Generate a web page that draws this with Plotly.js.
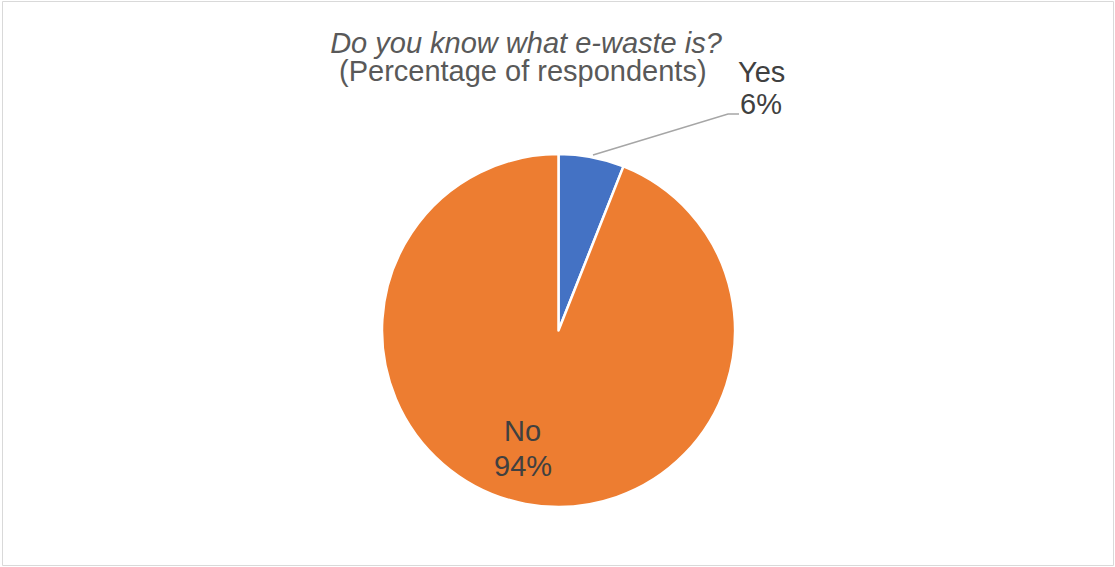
<!DOCTYPE html>
<html>
<head>
<meta charset="utf-8">
<script src="https://cdn.plot.ly/plotly-3.0.1.min.js"></script>
<style>html,body{margin:0;padding:0;background:#fff;}#chart{width:1115px;height:567px;}</style>
</head>
<body>
<div id="chart"></div>
<script>
const labels = ['Yes', 'No'];
const values = [6, 94];
const colors = ['#4472C4', '#ED7D31'];
const titleLine1 = 'Do you know what e-waste is?';
const titleLine2 = '(Percentage of respondents)';

const W = 1115, H = 567;
const cx = 558.5, cy = 330.5, R = 176.5;

const trace = {
  type: 'pie',
  labels: labels,
  values: values,
  sort: false,
  direction: 'clockwise',
  rotation: 0,
  textinfo: 'none',
  hoverinfo: 'label+percent',
  marker: { colors: colors, line: { color: '#FFFFFF', width: 2.5 } },
  domain: { x: [(cx - R) / W, (cx + R) / W], y: [(H - cy - R) / H, (H - cy + R) / H] },
  showlegend: false
};

const fontFam = 'Liberation Sans, Arial, sans-serif';
const FS = 29;
// [label line y, value line y, x center] in pixels
const labelPos = [ { x: 761, y1: 72, y2: 104.5 }, { x: 522.5, y1: 431, y2: 465.5 } ];
const annotations = [];
labels.forEach((l, i) => {
  annotations.push({
    xref: 'paper', yref: 'paper', x: labelPos[i].x / W, y: 1 - labelPos[i].y1 / H,
    xanchor: 'center', yanchor: 'middle', text: l, showarrow: false,
    font: { family: fontFam, size: FS, color: '#404040' }
  });
  annotations.push({
    xref: 'paper', yref: 'paper', x: labelPos[i].x / W, y: 1 - labelPos[i].y2 / H,
    xanchor: 'center', yanchor: 'middle', text: values[i] + '%', showarrow: false,
    font: { family: fontFam, size: FS, color: '#404040' }
  });
});
annotations.push({
  xref: 'paper', yref: 'paper', x: 523 / W, y: 1 - 71 / H,
  xanchor: 'center', yanchor: 'middle', text: titleLine2, showarrow: false,
  font: { family: fontFam, size: FS, color: '#595959' }
});

const layout = {
  width: W, height: H,
  margin: { l: 0, r: 0, t: 0, b: 0 },
  paper_bgcolor: '#FFFFFF',
  title: {
    text: '<i>' + titleLine1 + '</i>',
    xref: 'paper', x: 526 / W, xanchor: 'center',
    yref: 'container', y: 1 - 43 / H, yanchor: 'middle',
    font: { family: fontFam, size: FS, color: '#595959' }
  },
  annotations: annotations,
  shapes: [
    { type: 'rect', xref: 'paper', yref: 'paper', x0: 2.5 / W, x1: (W - 1.5) / W, y0: 1.5 / H, y1: (H - 1.5) / H,
      line: { color: '#D9D9D9', width: 1 } },
    { type: 'path', xref: 'paper', yref: 'paper',
      path: 'M ' + (593 / W) + ',' + (1 - 155 / H) + ' L ' + (728 / W) + ',' + (1 - 114 / H) + ' L ' + (739 / W) + ',' + (1 - 114 / H),
      line: { color: '#A6A6A6', width: 1.5 } }
  ]
};

Plotly.newPlot('chart', [trace], layout, { displayModeBar: false, staticPlot: true });
</script>
</body>
</html>
